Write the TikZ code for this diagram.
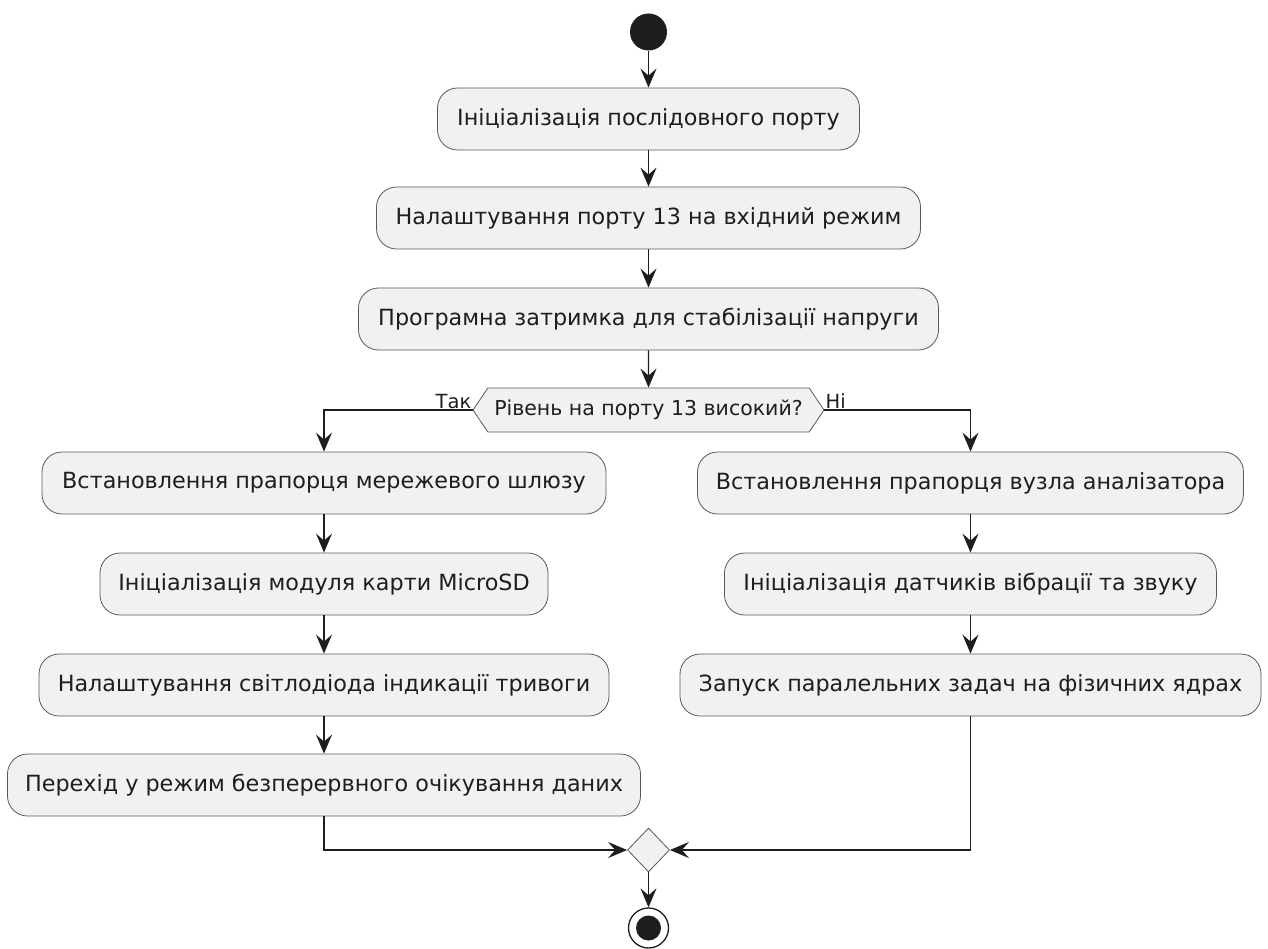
\documentclass[tikz,border=0pt]{standalone}
\usepackage{fontspec}
\setmainfont{DejaVu Sans}
\usetikzlibrary{arrows.meta,shapes.geometric,shapes.symbols}
\definecolor{boxfill}{HTML}{F1F1F1}
\definecolor{boxline}{HTML}{5A5A5A}
\definecolor{ink}{HTML}{1E1E1E}
\tikzset{
  act/.style={draw=boxline, line width=0.8pt, fill=boxfill, rounded corners=20pt,
    minimum height=62pt, inner sep=0pt, font=\fontsize{22.3}{26}\selectfont, text=ink},
  arr/.style={-{Stealth[length=19pt,width=16pt,inset=7pt]}, line width=1.4pt, draw=ink},
  guard/.style={font=\fontsize{19.5}{23}\selectfont, text=ink, inner sep=1pt},
}
\begin{document}
\begin{tikzpicture}[x=1pt,y=-1pt]
\useasboundingbox (0,0) rectangle (1268,949);

% start and the common trunk
\node[circle, fill=ink, minimum size=37pt, inner sep=0pt] (start) at (648.5,32) {};
\node[act, minimum width=422pt] (a1) at (648.5,119) {Ініціалізація послідовного порту};
\node[act, minimum width=544pt] (a2) at (648.5,218) {Налаштування порту 13 на вхідний режим};
\node[act, minimum width=580pt] (a3) at (648.5,319) {Програмна затримка для стабілізації напруги};

% decision
\node[signal, signal to=west and east, signal pointer angle=112, draw=boxline, line width=0.8pt,
  fill=boxfill, minimum width=351pt, minimum height=44pt, inner sep=0pt,
  font=\fontsize{20.5}{24}\selectfont, text=ink] (dec) at (648.5,410) {Рівень на порту 13 високий?};

% left branch
\node[act, minimum width=564pt] (l1) at (324,483) {Встановлення прапорця мережевого шлюзу};
\node[act, minimum width=448pt] (l2) at (324,584) {Ініціалізація модуля карти MicroSD};
\node[act, minimum width=570pt] (l3) at (324,685) {Налаштування світлодіода індикації тривоги};
\node[act, minimum width=633pt] (l4) at (324,785) {Перехід у режим безперервного очікування даних};

% right branch
\node[act, minimum width=546pt] (r1) at (970.5,483) {Встановлення прапорця вузла аналізатора};
\node[act, minimum width=492pt] (r2) at (970.5,584) {Ініціалізація датчиків вібрації та звуку};
\node[act, minimum width=581pt] (r3) at (970.5,685) {Запуск паралельних задач на фізичних ядрах};

% merge and end
\node[diamond, draw=boxline, line width=0.8pt, fill=boxfill, minimum width=42pt,
  minimum height=44pt, inner sep=0pt] (merge) at (648.5,850) {};
\node[circle, draw=ink, line width=1.3pt, fill=white, minimum size=40pt, inner sep=0pt] (stop) at (648.5,928) {};
\fill[ink] (stop.center) circle (12.5pt);

% connectors
\draw[arr] (start) -- (a1);
\draw[arr] (a1) -- (a2);
\draw[arr] (a2) -- (a3);
\draw[arr] (a3) -- (dec);
\draw[arr] (dec.west) -| (l1.north);
\draw[arr] (dec.east) -| (r1.north);
\node[guard, anchor=south east] (yes) at (dec.west) {Так};
\node[guard, anchor=south west] (no) at (dec.east) {Ні};
\draw[arr] (l1) -- (l2);
\draw[arr] (l2) -- (l3);
\draw[arr] (l3) -- (l4);
\draw[arr] (r1) -- (r2);
\draw[arr] (r2) -- (r3);
\draw[arr] (l4.south) |- (merge.west);
\draw[arr] (r3.south) |- (merge.east);
\draw[arr] (merge) -- (stop);
\end{tikzpicture}
\end{document}
